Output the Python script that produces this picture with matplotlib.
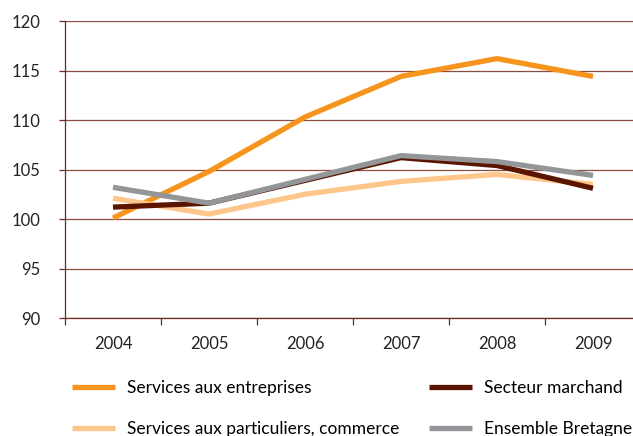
import matplotlib
matplotlib.use('Agg')
import matplotlib.pyplot as plt
from matplotlib.lines import Line2D


years = ['2004', '2005', '2006', '2007', '2008', '2009']
services_entreprises = [100.1, 104.8, 110.3, 114.4, 116.2, 114.4]
secteur_marchand = [101.2, 101.6, 103.9, 106.2, 105.4, 103.1]
services_particuliers = [102.1, 100.5, 102.5, 103.8, 104.5, 103.5]
ensemble_bretagne = [103.2, 101.6, 104.0, 106.4, 105.8, 104.4]
y_ticks = [90, 95, 100, 105, 110, 115, 120]

AXIS_COLOR = '#6b2a1a'
GRID_COLOR = '#8a4e3e'

plt.rcParams['font.family'] = ['Lato', 'DejaVu Sans']


def main():
    fig = plt.figure(figsize=(6.33, 4.36), dpi=100)
    ax = fig.add_axes([65 / 633, 1 - 318 / 436, 576 / 633, 297 / 436])

    x = list(range(len(years)))
    series = [
        (services_entreprises, '#f7941d', 'Services aux entreprises'),
        (services_particuliers, '#fdc68a', 'Services aux particuliers, commerce'),
        (secteur_marchand, '#5a1500', 'Secteur marchand'),
        (ensemble_bretagne, '#939598', 'Ensemble Bretagne'),
    ]
    # draw order: brown under gray, light orange, orange on top
    draw_order = [2, 3, 1, 0]
    for i in draw_order:
        vals, color, label = series[i]
        ax.plot(x, vals, color=color, lw=3.8, solid_capstyle='butt', zorder=3 + i)

    ax.set_xlim(-0.5, len(years) - 0.5)
    ax.set_ylim(90, 120)
    ax.set_yticks(y_ticks)
    ax.set_yticklabels([str(t) for t in y_ticks])
    ax.set_xticks(x)
    ax.set_xticklabels(years)
    ax.set_xticks([i - 0.5 for i in range(len(years) + 1)], minor=True)

    ax.yaxis.grid(True, color=GRID_COLOR, lw=0.9)
    ax.set_axisbelow(True)
    for s in ['top', 'right']:
        ax.spines[s].set_visible(False)
    for s in ['left', 'bottom']:
        ax.spines[s].set_color(AXIS_COLOR)
        ax.spines[s].set_linewidth(0.9)

    ax.tick_params(axis='y', length=4, width=0.9, color=AXIS_COLOR, pad=14,
                   labelsize=12, labelcolor='#222222')
    ax.tick_params(axis='x', which='major', length=0, pad=13,
                   labelsize=12, labelcolor='#222222')
    ax.tick_params(axis='x', which='minor', length=5, width=0.9, color=AXIS_COLOR)

    handles = [Line2D([], [], color=c, lw=3.8, solid_capstyle='butt') for _, c, _ in series]
    labels = [l for _, _, l in series]
    fig.legend(
        handles, labels,
        ncol=2,
        loc='upper left',
        bbox_to_anchor=(72 / 633, 1 - 380 / 436),
        frameon=False,
        fontsize=12.5,
        handlelength=2.5,
        handletextpad=0.66,
        columnspacing=1.7,
        labelspacing=1.45,
        borderaxespad=0,
        borderpad=0,
    )

    fig.savefig('out.png', dpi=100)


if __name__ == '__main__':
    main()
